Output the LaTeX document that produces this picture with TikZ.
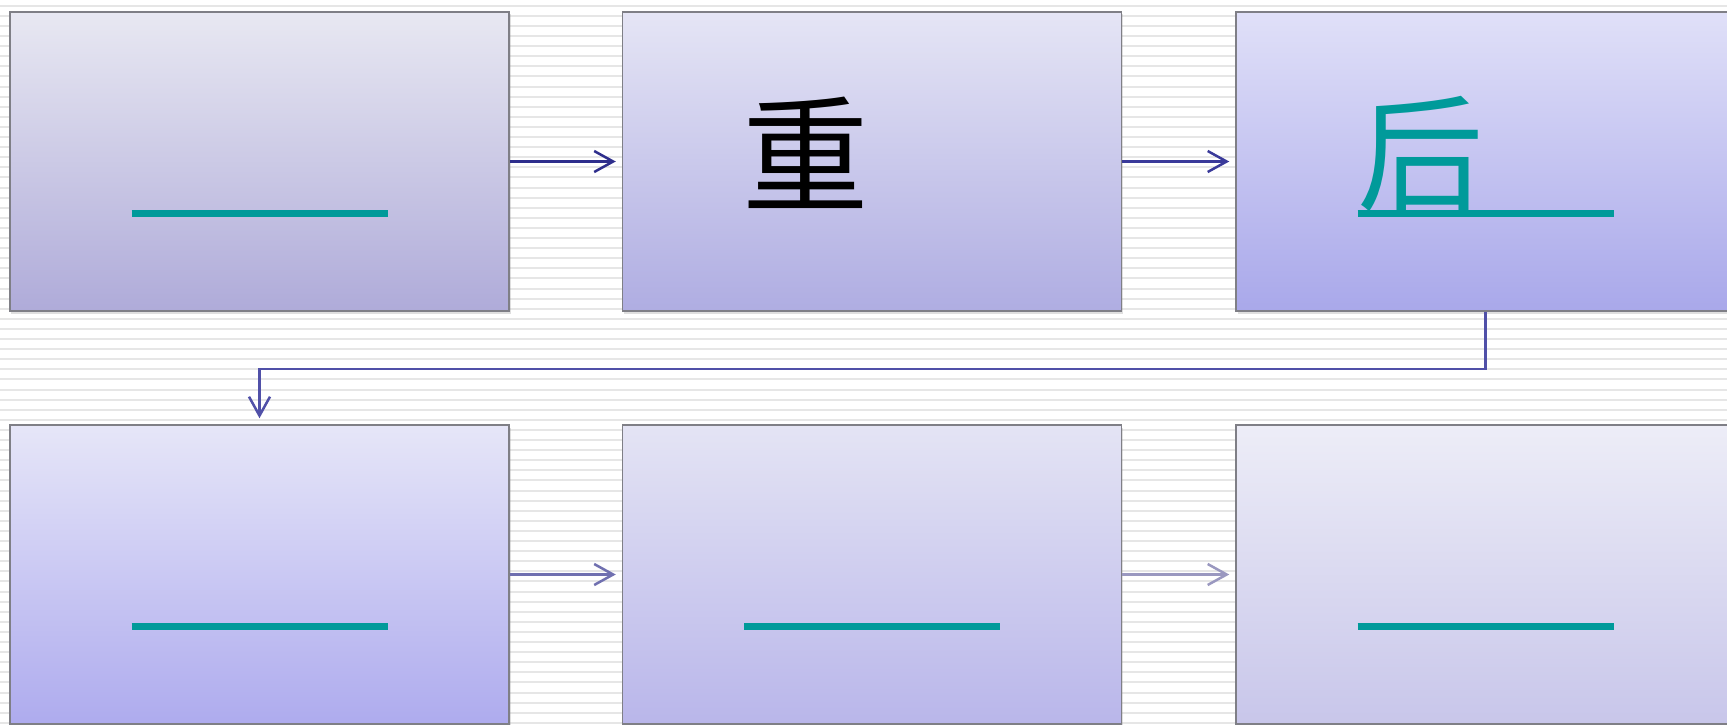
\documentclass[tikz,border=0pt]{standalone}
\usepackage{fontspec}
\newfontfamily\cjk{Noto Sans CJK SC}
\usetikzlibrary{arrows.meta, shadows}

\definecolor{blankteal}{HTML}{009A9A}
\definecolor{stripegray}{HTML}{E6E6E6}
\definecolor{edgegray}{HTML}{7F7F86}
\definecolor{navyA}{HTML}{2E2E8C}
\definecolor{navyB}{HTML}{3A3A9A}
\definecolor{hopblue}{HTML}{5050A8}
\definecolor{fadeA}{HTML}{7070B0}
\definecolor{fadeB}{HTML}{9A98C0}
% card gradients, top and bottom
\definecolor{aoneT}{HTML}{E8E8F2}\definecolor{aoneB}{HTML}{AFABD9}
\definecolor{atwoT}{HTML}{E5E5F5}\definecolor{atwoB}{HTML}{AFADE2}
\definecolor{athreeT}{HTML}{E0E0F8}\definecolor{athreeB}{HTML}{A9A8EA}
\definecolor{boneT}{HTML}{E6E6F8}\definecolor{boneB}{HTML}{AEABEE}
\definecolor{btwoT}{HTML}{E4E4F4}\definecolor{btwoB}{HTML}{B9B6EA}
\definecolor{bthreeT}{HTML}{EDEDF7}\definecolor{bthreeB}{HTML}{C8C6EA}

\begin{document}
\begin{tikzpicture}[x=0.2mm, y=-0.2mm,
    card/.style={draw=edgegray, line width=0.3mm, minimum width=99.8mm, minimum height=59.8mm,
        inner sep=0pt, drop shadow={opacity=0.25, shadow xshift=0.3mm, shadow yshift=-0.5mm}},
    blank/.style={draw=blankteal, line width=1.4mm},
    link/.style={line width=0.5mm, -{Straight Barb[length=3.8mm, width=4.2mm]}, shorten >=1.2mm},
    hanzi/.style={font=\cjk\fontsize{72}{74}\selectfont, inner sep=0pt},
    stripe/.style={draw=stripegray, line width=0.4mm}]

    \useasboundingbox (0,0) rectangle (1727,724);
    \clip (0,0) rectangle (1727,724);

    % striped background
    \fill[white] (0,0) rectangle (1727,724);
    \foreach \k in {0,...,71}
        \draw[stripe] (0,5.7+10.1*\k) -- (1727,5.7+10.1*\k);

    % first row
    \node[card, top color=aoneT, bottom color=aoneB] (a1) at (259.5,161.5) {};
    \node[card, top color=atwoT, bottom color=atwoB] (a2) at (872,161.5) {};
    \node[card, top color=athreeT, bottom color=athreeB] (a3) at (1485.5,161.5) {};

    % second row
    \node[card, top color=boneT, bottom color=boneB] (b1) at (259.5,574.5) {};
    \node[card, top color=btwoT, bottom color=btwoB] (b2) at (872,574.5) {};
    \node[card, top color=bthreeT, bottom color=bthreeB] (b3) at (1485.5,574.5) {};

    % blanks to fill in
    \draw[blank] ([shift={(-128,51.5)}]a1.center) -- +(256,0);
    \draw[blank] ([shift={(-128,51.5)}]a3.center) -- +(256,0);
    \draw[blank] ([shift={(-128,51.5)}]b1.center) -- +(256,0);
    \draw[blank] ([shift={(-128,51.5)}]b2.center) -- +(256,0);
    \draw[blank] ([shift={(-128,51.5)}]b3.center) -- +(256,0);

    \node[hanzi] (zhong) at ([shift={(-66,-8.5)}]a2.center) {重};
    \node[hanzi, text=blankteal] (hou) at ([shift={(-64.5,-7.5)}]a3.center) {后};

    % connectors
    \draw[link, navyA] (a1) -- (a2);
    \draw[link, navyB] (a2) -- (a3);
    \draw[link, hopblue] (a3.south) -- ++(0,57) -| (b1.north);
    \draw[link, fadeA] (b1) -- (b2);
    \draw[link, fadeB] (b2) -- (b3);
\end{tikzpicture}
\end{document}
